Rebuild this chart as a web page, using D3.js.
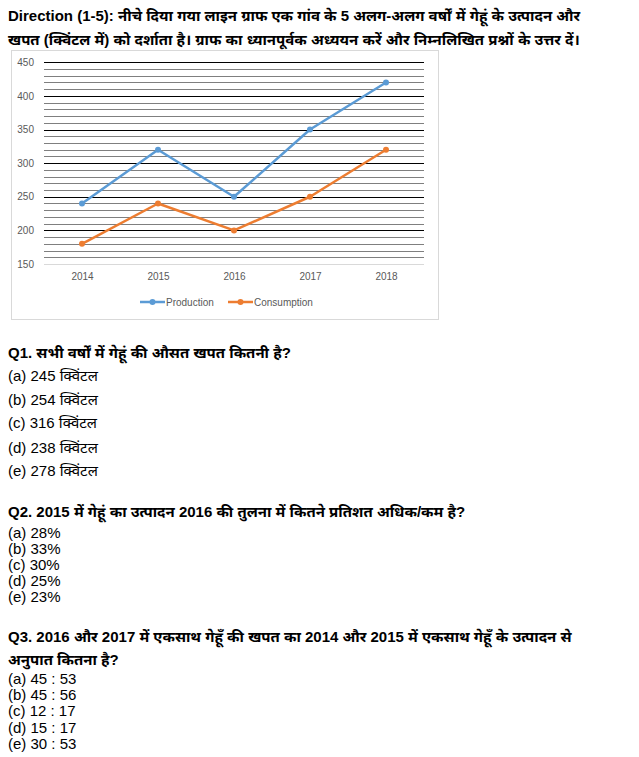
<!DOCTYPE html>
<html><head><meta charset="utf-8">
<script src="https://cdn.jsdelivr.net/npm/d3@7"></script>
<style>
html,body{margin:0;padding:0;background:#fff;}
svg{display:block;}
</style></head>
<body>
<script>
const years = ["2014","2015","2016","2017","2018"];
const production = [240, 320, 250, 350, 420];
const consumption = [180, 240, 200, 250, 320];
const seriesNames = ["Production", "Consumption"];
const yTicks = [150, 200, 250, 300, 350, 400, 450];

const titleLines = [
  "Direction (1-5): नीचे दिया गया लाइन ग्राफ एक गांव के 5 अलग-अलग वर्षों में गेहूं के उत्पादन और",
  "खपत (क्विंटल में) को दर्शाता है। ग्राफ का ध्यानपूर्वक अध्ययन करें और निम्नलिखित प्रश्नों के उत्तर दें।"
];
const q1 = ["Q1. सभी वर्षों में गेहूं की औसत खपत कितनी है?"];
const q1Options = ["(a) 245 क्विंटल","(b) 254 क्विंटल","(c) 316 क्विंटल","(d) 238 क्विंटल","(e) 278 क्विंटल"];
const q2 = ["Q2. 2015 में गेहूं का उत्पादन 2016 की तुलना में कितने प्रतिशत अधिक/कम है?"];
const q2Options = ["(a) 28%","(b) 33%","(c) 30%","(d) 25%","(e) 23%"];
const q3 = ["Q3. 2016 और 2017 में एकसाथ गेहूँ की खपत का 2014 और 2015 में एकसाथ गेहूँ के उत्पादन से","अनुपात कितना है?"];
const q3Options = ["(a) 45 : 53","(b) 45 : 56","(c) 12 : 17","(d) 15 : 17","(e) 30 : 53"];

const W = 639, H = 757;
const FONT = "'Liberation Sans', Arial, 'Noto Sans', sans-serif";
const svg = d3.select("body").append("svg").attr("width", W).attr("height", H);
svg.append("rect").attr("width", W).attr("height", H).attr("fill", "#fff");

// Title
svg.append("g").selectAll("text").data(titleLines).join("text")
  .attr("x", 8).attr("y", (d,i) => 21 + i*24)
  .attr("font-family", FONT).attr("font-size", 15).attr("font-weight", "bold")
  .attr("fill", "#000").text(d => d);

// Chart box
svg.append("rect").attr("x", 11.5).attr("y", 50.5).attr("width", 427).attr("height", 269)
  .attr("fill", "#fff").attr("stroke", "#d9d9d9").attr("stroke-width", 1);

const plot = {left: 44, right: 424, top: 62.3, bottom: 264};
const x = d3.scalePoint().domain(years).range([plot.left, plot.right]).padding(0.5);
const y = d3.scaleLinear().domain([150, 450]).range([plot.bottom, plot.top]);

// Gridlines (minor every 10, major every 50)
const gridVals = d3.range(160, 451, 10);
svg.append("g").selectAll("line").data(gridVals).join("line")
  .attr("x1", plot.left).attr("x2", plot.right)
  .attr("y1", d => Math.round(y(d)) + 0.5).attr("y2", d => Math.round(y(d)) + 0.5)
  .attr("stroke", d => d % 50 === 0 ? "#000" : "#7f7f7f").attr("stroke-width", 1);

// x axis line at 150
svg.append("line").attr("x1", plot.left).attr("x2", plot.right)
  .attr("y1", Math.round(y(150)) + 0.5).attr("y2", Math.round(y(150)) + 0.5)
  .attr("stroke", "#d9d9d9").attr("stroke-width", 1);

// Y axis
const yAxis = d3.axisLeft(y).tickValues(yTicks).tickSize(0).tickPadding(0);
const yg = svg.append("g").attr("transform", `translate(${plot.left - 10},0)`).call(yAxis);
yg.select(".domain").remove();
yg.selectAll("text").attr("font-family", FONT).attr("font-size", 10).attr("fill", "#595959");

// X axis
const xAxis = d3.axisBottom(x).tickSize(0).tickPadding(0);
const xg = svg.append("g").attr("transform", `translate(0,${plot.bottom + 9})`).call(xAxis);
xg.select(".domain").remove();
xg.selectAll("text").attr("font-family", FONT).attr("font-size", 10).attr("fill", "#595959");

const colors = ["#5b9bd5", "#ed7d31"];
const series = [production, consumption];
const line = d3.line().x((d,i) => x(years[i])).y(d => y(d));

series.forEach((vals, si) => {
  svg.append("path").datum(vals).attr("d", line)
    .attr("fill", "none").attr("stroke", colors[si]).attr("stroke-width", 2.5)
    .attr("stroke-linejoin", "round").attr("stroke-linecap", "round");
  svg.append("g").selectAll("circle").data(vals).join("circle")
    .attr("cx", (d,i) => x(years[i])).attr("cy", d => y(d)).attr("r", 3)
    .attr("fill", colors[si]);
});

// Legend
const legendX = [140, 228];
const legY = 302;
seriesNames.forEach((name, i) => {
  const g = svg.append("g");
  g.append("line").attr("x1", legendX[i]).attr("x2", legendX[i] + 25)
    .attr("y1", legY).attr("y2", legY).attr("stroke", colors[i]).attr("stroke-width", 2.5);
  g.append("circle").attr("cx", legendX[i] + 12.5).attr("cy", legY).attr("r", 3).attr("fill", colors[i]);
  g.append("text").attr("x", legendX[i] + 26).attr("y", legY + 3.5)
    .attr("font-family", FONT).attr("font-size", 10).attr("fill", "#595959").text(name);
});

// Questions
function block(heads, headYs, opts, optYs) {
  svg.append("g").selectAll("text").data(heads).join("text")
    .attr("x", 8).attr("y", (d,i) => headYs[i])
    .attr("font-family", FONT).attr("font-size", 15).attr("font-weight", "bold")
    .attr("fill", "#000").text(d => d);
  svg.append("g").selectAll("text").data(opts).join("text")
    .attr("x", 8).attr("y", (d,i) => optYs[i])
    .attr("font-family", FONT).attr("font-size", 15)
    .attr("fill", "#000").text(d => d);
}
block(q1, [358], q1Options, [381, 405, 428, 453, 476]);
block(q2, [517], q2Options, [538, 554, 570, 586, 602]);
block(q3, [642, 665], q3Options, [684, 700, 716, 733, 749]);
</script>
</body></html>
